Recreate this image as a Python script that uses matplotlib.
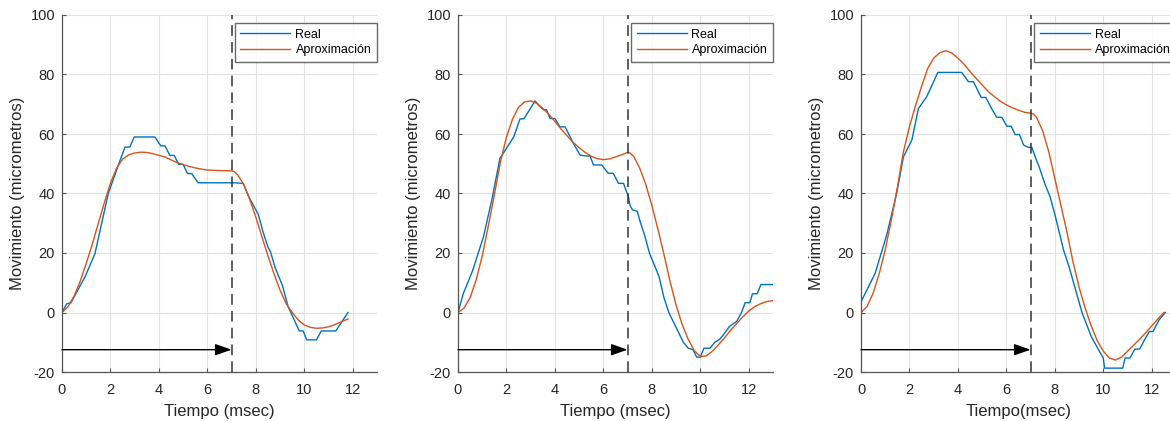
import matplotlib
matplotlib.use("Agg")
import matplotlib.pyplot as plt

plt.rcParams['font.family'] = ['Liberation Sans', 'DejaVu Sans']
plt.rcParams['axes.unicode_minus'] = False

# ---------------- data ----------------
t_real_1 = [0, 0.19, 0.37, 0.95, 1.36, 1.91, 2.39, 2.6, 2.8, 2.98, 3.83, 4.08, 4.25, 4.45, 4.63,
            4.82, 5.0, 5.18, 5.35, 5.62, 7.13, 7.48, 7.65, 7.8, 8.0, 8.1, 8.3, 8.5, 8.6, 8.8,
            9.0, 9.1, 9.33, 9.5, 9.79, 9.95, 10.1, 10.5, 10.7, 11.3, 11.8]
v_real_1 = [0, 2.9, 3.3, 12, 19.8, 40, 51, 55.6, 55.6, 59, 59, 56, 56, 52.8, 52.8,
            49.8, 49.8, 46.7, 46.7, 43.6, 43.6, 43.4, 40, 37.5, 34.5, 33, 27, 22, 20.5, 15,
            11, 9, 2, -1, -6.2, -6.2, -9.2, -9.2, -6.2, -6.2, 0]
t_aprox_1 = [0, 0.25, 0.5, 0.75, 1.0, 1.25, 1.5, 1.75, 2.0, 2.25, 2.5, 2.75, 3.0, 3.25, 3.5,
             3.75, 4.0, 4.25, 4.5, 4.75, 5.0, 5.25, 5.5, 5.75, 6.0, 6.25, 6.5, 6.75, 7.0, 7.1,
             7.25, 7.5, 7.75, 8.0, 8.25, 8.5, 8.75, 9.0, 9.25, 9.5, 9.75, 10.0, 10.25, 10.5,
             10.75, 11.0, 11.25, 11.5, 11.8]
v_aprox_1 = [0, 2, 5.5, 10.5, 16.5, 23, 30, 37, 43.5, 48.5, 51.5, 53, 53.6, 53.9, 53.8,
             53.4, 52.8, 52.3, 51.3, 50.4, 49.7, 49.1, 48.6, 48.2, 47.9, 47.8, 47.7, 47.7, 47.6, 47.4,
             46.3, 43, 38, 32, 25.5, 19, 13, 7.5, 3, 0, -2.5, -4.2, -5, -5.3,
             -5.2, -4.8, -4.1, -3.2, -2.2]

t_real_2 = [0, 0.22, 0.36, 0.6, 1.05, 1.4, 1.73, 2.08, 2.3, 2.56, 2.72, 3.18, 3.35, 3.52, 3.65,
            3.8, 4.0, 4.21, 4.42, 4.6, 4.76, 5.04, 5.31, 5.45, 5.59, 5.93, 6.2, 6.41, 6.62, 6.83,
            7.03, 7.1, 7.2, 7.4, 7.5, 7.7, 7.9, 8.1, 8.3, 8.5, 8.7, 9.0, 9.3, 9.5, 9.7, 9.85,
            10.0, 10.15, 10.4, 10.6, 10.8, 11.0, 11.2, 11.5, 11.7, 11.85, 12.05, 12.15, 12.35,
            12.5, 13.0]
v_real_2 = [0, 6.4, 9.2, 14, 25.4, 38, 51.8, 56.2, 59, 65.1, 65.1, 71.1, 69.5, 68.2, 68.2,
            65.2, 65.2, 62.4, 62.4, 59.5, 56.9, 52.9, 52.6, 52.6, 49.6, 49.6, 46.8, 46.8, 43.4, 43.4,
            39, 36, 34.5, 34, 31, 26, 20, 16, 12, 5, 0, -5, -10, -12, -12.5, -15,
            -15, -12, -12, -10, -9, -7, -4.7, -3, 0, 3.3, 3.3, 6.3, 6.3,
            9.4, 9.4]
t_aprox_2 = [0, 0.25, 0.5, 0.75, 1.0, 1.25, 1.5, 1.75, 2.0, 2.25, 2.5, 2.75, 3.0, 3.25, 3.5,
             3.75, 4.0, 4.25, 4.5, 4.75, 5.0, 5.25, 5.5, 5.75, 6.0, 6.25, 6.5, 6.75, 7.0, 7.1,
             7.25, 7.5, 7.75, 8.0, 8.25, 8.5, 8.75, 9.0, 9.25, 9.5, 9.75, 10.0, 10.25, 10.5,
             10.75, 11.0, 11.25, 11.5, 11.75, 12.0, 12.25, 12.5, 12.75, 13.0]
v_aprox_2 = [0, 1.5, 5, 11, 19, 29, 39.5, 50.5, 59, 65, 69, 70.8, 71.1, 70.3, 68.6,
             66.6, 64.2, 61.7, 59.4, 57.2, 55.4, 53.8, 52.5, 51.7, 51.4, 51.6, 52.3, 53, 53.8, 53.6,
             52.5, 48.5, 43, 36, 28, 19.5, 10.5, 2.5, -4, -9, -12.8, -14.8, -14.6, -13,
             -10.8, -8.5, -6, -3.7, -1.5, 0.5, 2, 3, 3.7, 4]

t_real_3 = [0, 0.58, 1.06, 1.47, 1.75, 1.96, 2.1, 2.37, 2.71, 3.17, 4.16, 4.43, 4.64, 4.96, 5.15,
            5.4, 5.6, 5.81, 6.02, 6.2, 6.36, 6.54, 6.71, 6.91, 7.05, 7.19, 7.35, 7.6, 7.8, 8.0,
            8.36, 8.6, 9.12, 9.5, 9.8, 10.0, 10.05, 10.8, 10.9, 11.1, 11.3, 11.5, 11.7, 11.9,
            12.05, 12.3, 12.56]
v_real_3 = [3.6, 13.1, 26, 40, 52.3, 55.7, 58, 68.6, 72.5, 80.7, 80.7, 77.6, 77.6, 72.3, 72.3,
            68.4, 65.6, 65.6, 62.6, 62.6, 59.8, 59.8, 56.3, 55.5, 55.5, 52.3, 49, 43, 39, 33,
            21, 15, 0, -8, -12.5, -15.3, -18.7, -18.7, -15.3, -15.3, -12.3, -12.3, -9.2, -6.4,
            -6.4, -2.5, 0]
t_aprox_3 = [0, 0.25, 0.5, 0.75, 1.0, 1.25, 1.5, 1.75, 2.0, 2.25, 2.5, 2.75, 3.0, 3.25, 3.5,
             3.75, 4.0, 4.25, 4.5, 4.75, 5.0, 5.25, 5.5, 5.75, 6.0, 6.25, 6.5, 6.75, 7.0, 7.1,
             7.25, 7.5, 7.75, 8.0, 8.25, 8.5, 8.75, 9.0, 9.25, 9.5, 9.75, 10.0, 10.25, 10.5,
             10.75, 11.0, 11.25, 11.5, 11.75, 12.0, 12.25, 12.5]
v_aprox_3 = [0, 2, 6.5, 13, 21, 31, 42, 54, 62.5, 69.5, 76, 82, 85.5, 87.3, 88,
             87.2, 85.5, 83.5, 81, 78.7, 76.5, 74.3, 72.6, 71, 69.8, 68.8, 68, 67.3, 67, 66.8,
             65.5, 61, 54, 45, 36, 27, 17, 8.5, 1.5, -4.5, -9.5, -13, -15.3, -16,
             -15, -13, -11, -9, -6.8, -4.5, -2.2, 0]

x_labels = ["Tiempo (msec)", "Tiempo (msec)", "Tiempo(msec)"]
y_label = "Movimiento (micrometros)"
series_names = ["Real", "Aproximación"]
x_ticks = [0, 2, 4, 6, 8, 10, 12]
y_ticks = [-20, 0, 20, 40, 60, 80, 100]
t_cut = 7
arrow_y = -12.5

real_t = [t_real_1, t_real_2, t_real_3]
real_v = [v_real_1, v_real_2, v_real_3]
aprox_t = [t_aprox_1, t_aprox_2, t_aprox_3]
aprox_v = [v_aprox_1, v_aprox_2, v_aprox_3]

# ---------------- plot ----------------
W, H = 1170, 421
fig = plt.figure(figsize=(W / 100, H / 100), dpi=100)
lefts = [62, 458, 861]
ax_w, ax_b, ax_h = 315, 49, 357
axis_col = '#262626'
blue = '#0072BD'
orange = '#D95319'

for i in range(3):
    ax = fig.add_axes([lefts[i] / W, ax_b / H, ax_w / W, ax_h / H])
    ax.plot(real_t[i], real_v[i], color=blue, lw=1.0, label=series_names[0])
    ax.plot(aprox_t[i], aprox_v[i], color=orange, lw=1.0, label=series_names[1])
    ax.axvline(t_cut, color='#333333', lw=1.1, ls=(0, (7, 4)))
    ax.annotate('', xy=(t_cut, arrow_y), xytext=(0, arrow_y),
                arrowprops=dict(arrowstyle='-|>,head_length=1.0,head_width=0.35',
                                color='black', lw=1.0, shrinkA=0, shrinkB=0))
    ax.set_xlim(0, 13)
    ax.set_ylim(-20, 100)
    ax.set_xticks(x_ticks)
    ax.set_yticks(y_ticks)
    ax.grid(True, color='#e2e2e2', lw=0.8)
    ax.set_axisbelow(True)
    for s in ['top', 'right']:
        ax.spines[s].set_visible(False)
    for s in ['left', 'bottom']:
        ax.spines[s].set_color('#555555')
        ax.spines[s].set_linewidth(0.9)
    ax.tick_params(direction='in', length=3, width=0.8, colors='#555555',
                   labelcolor=axis_col, labelsize=10.5)
    ax.tick_params(axis='x', pad=8)
    ax.tick_params(axis='y', pad=5)
    ax.set_xlabel(x_labels[i], fontsize=12, color=axis_col, labelpad=5)
    ax.set_ylabel(y_label, fontsize=12, color=axis_col, labelpad=4)
    leg = ax.legend(loc='upper right', bbox_to_anchor=(1.0, 1 - 8 / ax_h), fontsize=9,
                    handlelength=4.0, frameon=True, fancybox=False, borderaxespad=0,
                    borderpad=0.45, labelspacing=0.3, handletextpad=0.4)
    leg.get_frame().set_edgecolor('#444444')
    leg.get_frame().set_linewidth(1.0)

fig.savefig('out.png', dpi=100)
